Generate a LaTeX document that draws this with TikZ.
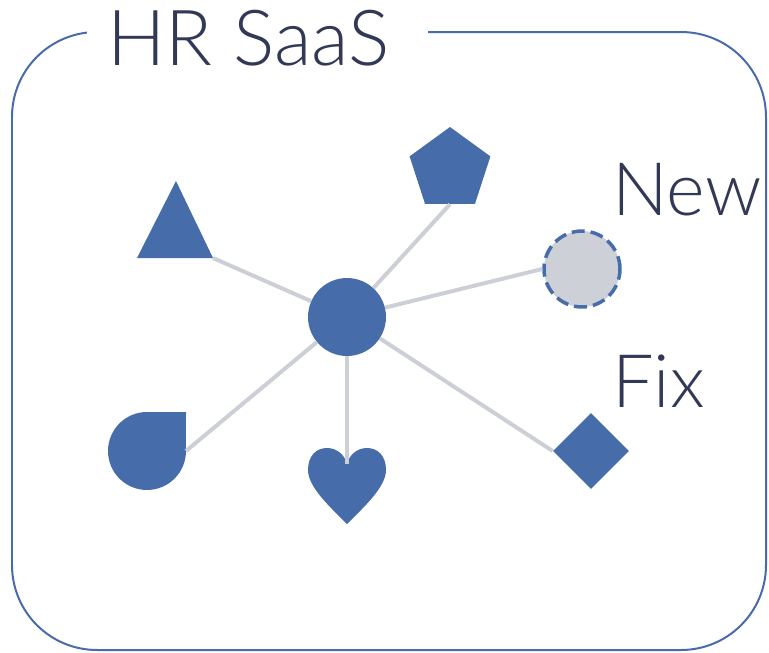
\documentclass[tikz,border=0pt]{standalone}
\usepackage{fontspec}
\setmainfont{Lato}[UprightFont=* Light]
\usepackage{tikz}
\usetikzlibrary{shapes.geometric}
\definecolor{shapeblue}{RGB}{70,108,169}
\definecolor{frameblue}{RGB}{72,107,172}
\definecolor{inkdark}{RGB}{50,57,86}
\definecolor{edgegray}{RGB}{205,207,215}
\definecolor{newgray}{RGB}{206,208,215}

\begin{document}
\begin{tikzpicture}[x=0.02cm, y=-0.02cm,
  blob/.style={fill=shapeblue, inner sep=0pt, minimum size=1.56cm},
  link/.style={edgegray, line width=0.08cm},
  label/.style={inkdark, font=\fontsize{42}{50}\selectfont, inner sep=0pt}]
\useasboundingbox (0,0) rectangle (769,653);
\draw[frameblue, line width=0.04cm, rounded corners=1.7cm] (12,32) rectangle (766,650);
\node[label, font=\fontsize{44}{50}\selectfont, fill=white, inner xsep=0.4cm, anchor=base west] (title)
  at (87,65) {HR SaaS\hspace*{0.36cm}};

\node[blob, circle] (hub) at (347,317) {};
\node[blob, regular polygon, regular polygon sides=5, minimum size=1.7cm] (pent) at (450,169.5) {};
\node[blob, diamond, minimum size=1.52cm] (dia) at (591,451) {};
\node[circle, fill=newgray, draw=shapeblue, line width=0.07cm, dash pattern=on 0.26cm off 0.12cm,
  inner sep=0pt, minimum size=1.52cm] (new) at (582,269) {};
\fill[shapeblue] (176,181) -- (213,258) coordinate (tri) -- (137,258) -- cycle;
\fill[shapeblue] (147,412) arc[start angle=90, end angle=360, radius=0.78cm] coordinate (drop)
  -- (186,412) -- cycle;
\fill[shapeblue] (347,524) .. controls (330,507) and (308,487) .. (308,470)
  .. controls (308,456) and (316,448) .. (327,448)
  .. controls (338,448) and (345,456) .. (347,464) coordinate (heart)
  .. controls (349,456) and (356,448) .. (367,448)
  .. controls (378,448) and (386,456) .. (386,470)
  .. controls (386,487) and (364,507) .. (347,524) -- cycle;

\foreach \t in {tri, pent.south, new.west, drop, heart, dia.west}
    \draw[link] (hub) -- (\t);

\node[label, anchor=base west] (newtext) at (612,215) {New};
\node[label, anchor=base west] (fixtext) at (612,407) {Fix};
\end{tikzpicture}
\end{document}
